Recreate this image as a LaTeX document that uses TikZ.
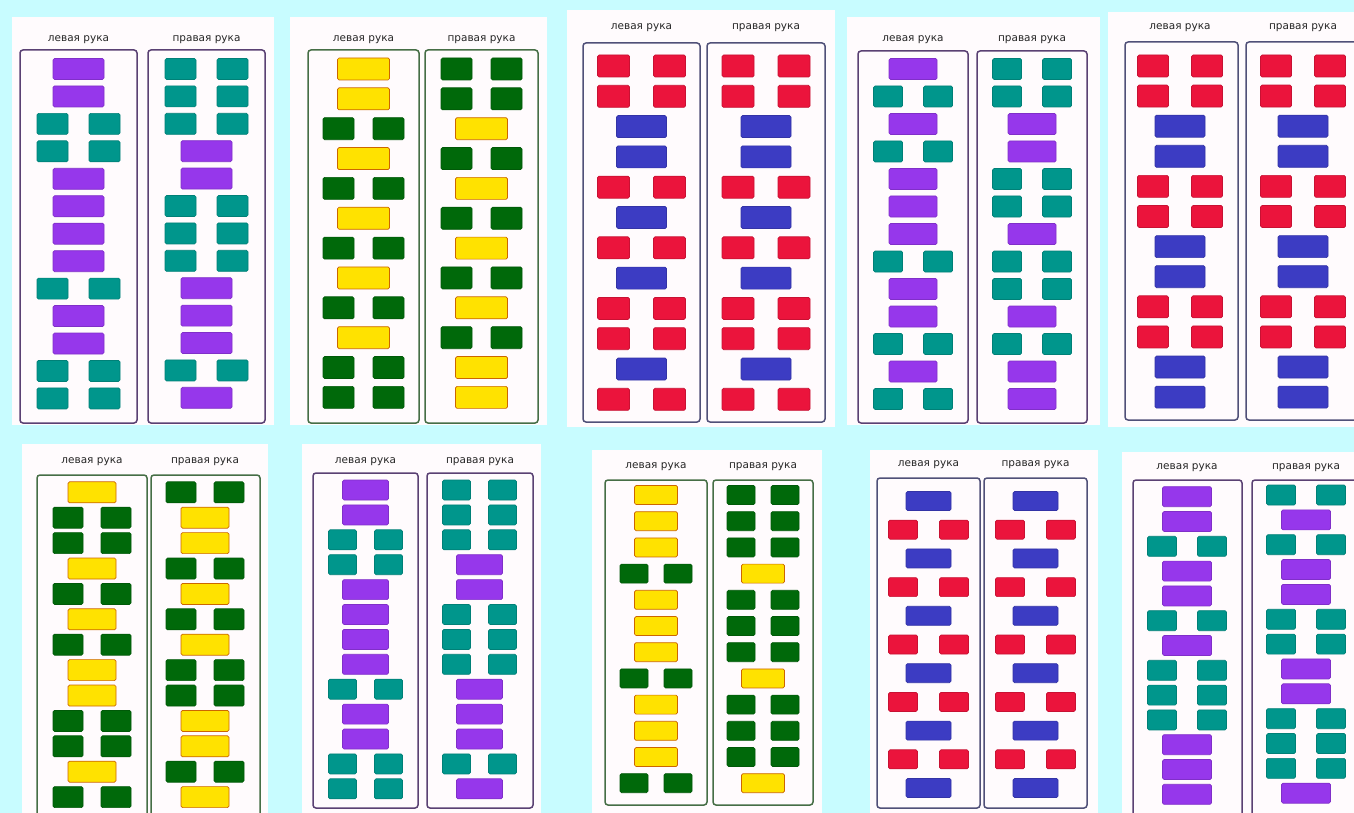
\documentclass[tikz,border=0pt]{standalone}
\usepackage{fontspec}
\setmainfont{DejaVu Sans}

\definecolor{skyback}{RGB}{200,252,255}
\definecolor{cardwhite}{RGB}{255,251,253}
\definecolor{violet}{RGB}{150,55,235}
\definecolor{sea}{RGB}{0,150,140}
\definecolor{lemon}{RGB}{255,226,0}
\definecolor{leaf}{RGB}{0,105,10}
\definecolor{crimson}{RGB}{235,20,60}
\definecolor{royal}{RGB}{60,60,195}
\definecolor{framepurple}{RGB}{90,65,115}
\definecolor{framegreen}{RGB}{70,110,70}
\definecolor{frameblue}{RGB}{80,80,120}

% block sizes of one panel: wide, square, height, half distance of a pair
\newcommand{\blocksize}[4]{\def\widew{#1pt}\def\sqw{#2pt}\def\blockh{#3pt}\def\pairdx{#4}}
% one hand column: name, x centre, first y, row pitch, wide style, pair style, rows
\newcommand{\handcol}[7]{%
  \foreach \kind [count=\i] in {#7} {
    \pgfmathsetmacro{\rowy}{#3+(\i-1)*#4}
    \if\kind w
      \node[wide, #5] (#1-\i) at (#2,\rowy) {};
    \else
      \node[pair, #6] (#1-\i-a) at (#2-\pairdx,\rowy) {};
      \node[pair, #6] (#1-\i-b) at (#2+\pairdx,\rowy) {};
    \fi
  }
}

\begin{document}
\begin{tikzpicture}[x=1pt, y=-1pt,
  card/.style={fill=cardwhite},
  hand/.style={font=\fontsize{10.5}{11}\selectfont, text=black!85, inner sep=0pt},
  handframe/.style={rounded corners=3pt, line width=1.5pt},
  purpleframe/.style={handframe, draw=framepurple},
  greenframe/.style={handframe, draw=framegreen},
  blueframe/.style={handframe, draw=frameblue},
  wide/.style={rectangle, rounded corners=1.5pt, inner sep=0pt, line width=0.7pt,
               minimum width=\widew, minimum height=\blockh},
  pair/.style={rectangle, rounded corners=1.5pt, inner sep=0pt, line width=0.7pt,
               minimum width=\sqw, minimum height=\blockh},
  violetblock/.style={fill=violet, draw=violet!85!black},
  tealblock/.style={fill=sea, draw=sea!85!black},
  yellowblock/.style={fill=lemon, draw=orange!80!black},
  greenblock/.style={fill=leaf, draw=leaf!85!black},
  redblock/.style={fill=crimson, draw=crimson!85!black},
  blueblock/.style={fill=royal, draw=royal!85!black}
]
\useasboundingbox (0,0) rectangle (1354,813);
\clip (0,0) rectangle (1354,813);
\fill[skyback] (0,0) rectangle (1354,813);

% top row
\fill[card] (12,17) rectangle (274,425);
\draw[purpleframe] (20,50) rectangle (137,423);
\draw[purpleframe] (148,50) rectangle (265,423);
\node[hand] (p1lh) at (78.5,40) {левая рука};
\node[hand] (p1rh) at (206.5,40) {правая рука};
\blocksize{51}{31}{21}{26}
\handcol{p1l}{78.5}{69}{27.45}{violetblock}{tealblock}{w,w,p,p,w,w,w,w,p,w,w,p,p}
\handcol{p1r}{206.5}{69}{27.4}{violetblock}{tealblock}{p,p,p,w,w,p,p,p,w,w,w,p,w}

\fill[card] (290,17) rectangle (547,425);
\draw[greenframe] (308,50) rectangle (419,423);
\draw[greenframe] (425,50) rectangle (538,423);
\node[hand] (p2lh) at (363.5,40) {левая рука};
\node[hand] (p2rh) at (481.5,40) {правая рука};
\blocksize{52}{31}{22}{25}
\handcol{p2l}{363.5}{69}{29.85}{yellowblock}{greenblock}{w,w,p,w,p,w,p,w,p,w,p,p}
\handcol{p2r}{481.5}{69}{29.85}{yellowblock}{greenblock}{p,p,w,p,w,p,w,p,w,p,w,w}

\fill[card] (567,10) rectangle (835,427);
\draw[blueframe] (583,43) rectangle (700,422);
\draw[blueframe] (707,43) rectangle (825,422);
\node[hand] (p3lh) at (641.5,28) {левая рука};
\node[hand] (p3rh) at (766,28) {правая рука};
\blocksize{50}{32}{22}{28}
\handcol{p3l}{641.5}{66}{30.3}{blueblock}{redblock}{p,p,w,w,p,w,p,w,p,p,w,p}
\handcol{p3r}{766}{66}{30.3}{blueblock}{redblock}{p,p,w,w,p,w,p,w,p,p,w,p}

\fill[card] (847,17) rectangle (1100,425);
\draw[purpleframe] (858,51) rectangle (968,423);
\draw[purpleframe] (977,51) rectangle (1087,423);
\node[hand] (p4lh) at (913,40) {левая рука};
\node[hand] (p4rh) at (1032,40) {правая рука};
\blocksize{48}{29}{21}{25}
\handcol{p4l}{913}{69}{27.5}{violetblock}{tealblock}{w,p,w,p,w,w,w,p,w,w,p,w,p}
\handcol{p4r}{1032}{69}{27.5}{violetblock}{tealblock}{p,p,w,w,p,p,w,p,p,w,p,w,w}

\fill[card] (1108,12) rectangle (1360,427);
\draw[blueframe] (1125,42) rectangle (1238,420);
\draw[blueframe] (1246,42) rectangle (1362,420);
\node[hand] (p5lh) at (1180,28) {левая рука};
\node[hand] (p5rh) at (1303,28) {правая рука};
\blocksize{50}{31}{22}{27}
\handcol{p5l}{1180}{66}{30.1}{blueblock}{redblock}{p,p,w,w,p,p,w,w,p,p,w,w}
\handcol{p5r}{1303}{66}{30.1}{blueblock}{redblock}{p,p,w,w,p,p,w,w,p,p,w,w}

% bottom row
\fill[card] (22,444) rectangle (268,820);
\draw[greenframe] (37,475) rectangle (147,830);
\draw[greenframe] (151,475) rectangle (260,830);
\node[hand] (p6lh) at (92,462) {левая рука};
\node[hand] (p6rh) at (205,462) {правая рука};
\blocksize{48}{30}{21}{24}
\handcol{p6l}{92}{492.3}{25.4}{yellowblock}{greenblock}{w,p,p,w,p,w,p,w,w,p,p,w,p}
\handcol{p6r}{205}{492.3}{25.4}{yellowblock}{greenblock}{p,w,w,p,w,p,w,p,p,w,w,p,w}

\fill[card] (302,444) rectangle (541,820);
\draw[purpleframe] (313,473) rectangle (418,808);
\draw[purpleframe] (427,473) rectangle (533,808);
\node[hand] (p7lh) at (365.5,462) {левая рука};
\node[hand] (p7rh) at (480,462) {правая рука};
\blocksize{46}{28}{20}{23}
\handcol{p7l}{365.5}{490}{24.9}{violetblock}{tealblock}{w,w,p,p,w,w,w,w,p,w,w,p,p}
\handcol{p7r}{479.5}{490}{24.9}{violetblock}{tealblock}{p,p,p,w,w,p,p,p,w,w,w,p,w}

\fill[card] (592,450) rectangle (822,820);
\draw[greenframe] (605,480) rectangle (707,805);
\draw[greenframe] (713,480) rectangle (813,805);
\node[hand] (p8lh) at (656,467) {левая рука};
\node[hand] (p8rh) at (763,467) {правая рука};
\blocksize{43}{28}{19}{22}
\handcol{p8l}{656}{495}{26.2}{yellowblock}{greenblock}{w,w,w,p,w,w,w,p,w,w,w,p}
\handcol{p8r}{763}{495}{26.2}{yellowblock}{greenblock}{p,p,p,w,p,p,p,w,p,p,p,w}

\fill[card] (870,450) rectangle (1098,820);
\draw[blueframe] (877,478) rectangle (980,808);
\draw[blueframe] (984,478) rectangle (1087,808);
\node[hand] (p9lh) at (928.5,465) {левая рука};
\node[hand] (p9rh) at (1035.5,465) {правая рука};
\blocksize{45}{29}{19}{25.5}
\handcol{p9l}{928.5}{501}{28.7}{blueblock}{redblock}{w,p,w,p,w,p,w,p,w,p,w}
\handcol{p9r}{1035.5}{501}{28.7}{blueblock}{redblock}{w,p,w,p,w,p,w,p,w,p,w}

\fill[card] (1122,452) rectangle (1360,820);
\draw[purpleframe] (1133,480) rectangle (1242,830);
\draw[purpleframe] (1252,480) rectangle (1362,830);
\node[hand] (p10lh) at (1187,468) {левая рука};
\node[hand] (p10rh) at (1306,468) {правая рука};
\blocksize{49}{29}{20}{25}
\handcol{p10l}{1187}{496.7}{24.8}{violetblock}{tealblock}{w,w,p,w,w,p,w,p,p,p,w,w,w}
\handcol{p10r}{1306}{495}{24.85}{violetblock}{tealblock}{p,w,p,w,w,p,p,w,w,p,p,p,w}
\end{tikzpicture}
\end{document}
